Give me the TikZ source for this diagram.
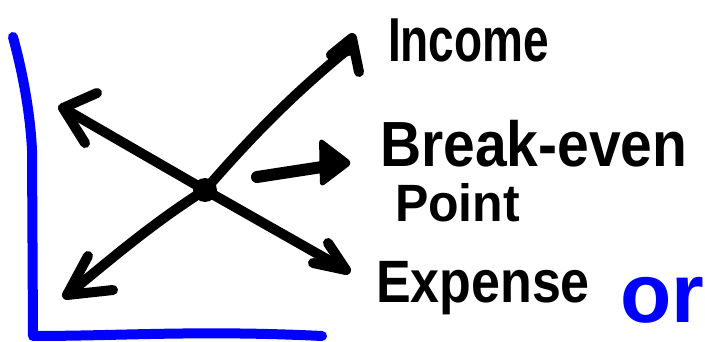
\documentclass[tikz,border=0pt]{standalone}
\usepackage{fontspec}
\setmainfont{Liberation Sans}
\begin{document}
\begin{tikzpicture}[x=1pt,y=-1pt,
  ink/.style={line width=10pt,line cap=round,line join=round,black},
  axis/.style={line width=10pt,line cap=round,line join=round,blue},
  lbl/.style={anchor=base west,inner sep=0pt,outer sep=0pt,black,font=\bfseries}]
\useasboundingbox (0,0) rectangle (705,342);
% axes
\draw[axis] (13,37) .. controls (22,70) and (30,110) .. (32,150) -- (33,336)
  .. controls (120,336) and (200,330) .. (322,336);
% centre
\node[circle,fill=black,minimum size=24pt,inner sep=0pt] (c) at (205,190) {};
\coordinate (inc) at (352,46);
\coordinate (ul) at (63,108);
\coordinate (ll) at (67,295);
\coordinate (exp) at (346,270);
% connectors
\draw[ink] (c.center) .. controls (240,150) and (285,100) .. (inc);
\draw[ink] (c.center) -- (ul);
\draw[ink] (c.center) .. controls (150,225) and (110,260) .. (ll);
\draw[ink] (c.center) -- (exp);
% heads
\draw[ink] (352,50) -- (331,55) -- (352,38) -- (359,72);
\draw[ink] (97,93) -- (ul) -- (85,143);
\draw[ink] (88,256) -- (ll) -- (113,290);
\draw[ink] (328,243) -- (exp) -- (313,263);
% break-even arrow
\coordinate (bs) at (257,177);
\coordinate (be) at (335,165);
\draw[ink,line width=12pt] (bs) -- (be);
\fill[black,rounded corners=6pt] (319,137) -- (353,163) -- (320,188) -- cycle;
% labels
\node[lbl,font=\bfseries\fontsize{46}{46}\selectfont,yscale=1.35] (tinc) at (388,62) {Income};
\node[lbl,font=\bfseries\fontsize{57}{57}\selectfont,yscale=1.12] (tbe) at (380,167) {Break-even};
\node[lbl,font=\bfseries\fontsize{50}{50}\selectfont,yscale=1.05] (tpt) at (395,222) {Point};
\node[lbl,font=\bfseries\fontsize{52}{52}\selectfont,yscale=1.15] (texp) at (376,302) {Expense};
\node[lbl,font=\bfseries\fontsize{84}{84}\selectfont,text=blue] (tor) at (620,322) {or};
\end{tikzpicture}
\end{document}
